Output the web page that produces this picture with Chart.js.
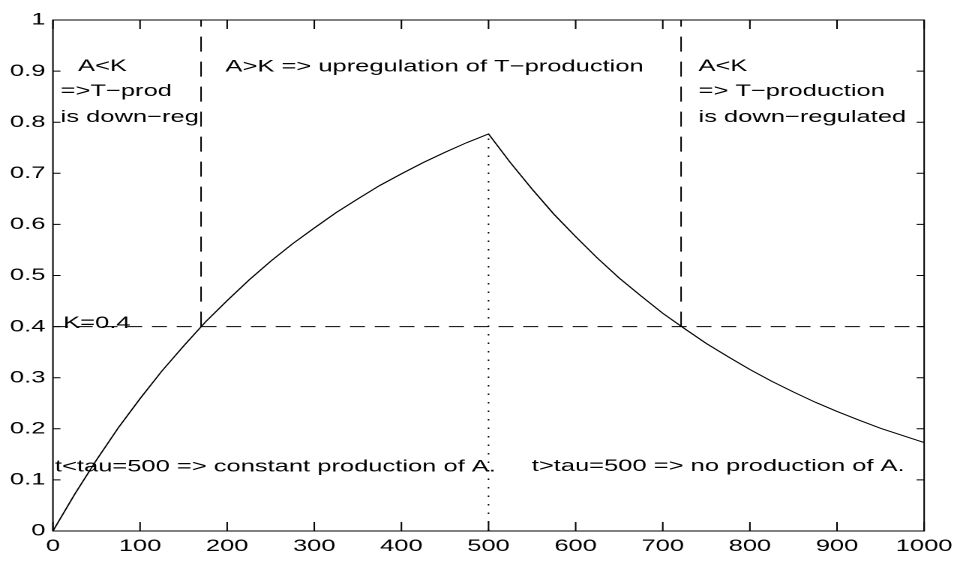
<!DOCTYPE html>
<html>
<head>
<meta charset="utf-8">
<script src="https://cdn.jsdelivr.net/npm/chart.js@4/dist/chart.umd.min.js"></script>
<style>
  html, body { margin: 0; padding: 0; background: #fff; overflow: hidden; }
  /* la figura original está estirada en horizontal */
  #wrap { width: 640px; height: 562px; transform: scaleX(1.5); transform-origin: 0 0; }
</style>
</head>
<body>
<div id="wrap"><canvas id="grafico" width="640" height="562"></canvas></div>
<script>
// Tiempo y concentración de A
const tiempo = [0, 25, 50, 75, 100, 125, 150, 175, 200, 225, 250, 275, 300, 325, 350, 375, 400, 425, 450, 475, 500,
                525, 550, 575, 600, 625, 650, 675, 700, 725, 750, 775, 800, 825, 850, 875, 900, 925, 950, 975, 1000];
const concA = [0, 0.072, 0.139, 0.202, 0.259, 0.313, 0.362, 0.409, 0.451, 0.491, 0.528, 0.562, 0.593, 0.623, 0.650,
               0.676, 0.699, 0.721, 0.741, 0.760, 0.777,
               0.721, 0.669, 0.620, 0.576, 0.534, 0.495, 0.460, 0.426, 0.396, 0.367, 0.341, 0.316, 0.293, 0.272,
               0.252, 0.234, 0.217, 0.201, 0.187, 0.173];

// Umbral K, tau y cruces de la curva con K
const umbralK = 0.4;
const tau = 500;
const picoA = 0.777;
const cruces = [170, 721];

// Marcas de los ejes
const xTicks = [0, 100, 200, 300, 400, 500, 600, 700, 800, 900, 1000];
const xTickLabels = ['0', '100', '200', '300', '400', '500', '600', '700', '800', '900', '1000'];
const yTicks = [0, 0.1, 0.2, 0.3, 0.4, 0.5, 0.6, 0.7, 0.8, 0.9, 1];
const yTickLabels = ['0', '0.1', '0.2', '0.3', '0.4', '0.5', '0.6', '0.7', '0.8', '0.9', '1'];

// Textos dentro del gráfico (coordenadas de datos)
const notas = [
  { x: 28.8, y: 0.909, texto: 'A<K' },
  { x: 8.8, y: 0.860, texto: '=>T\u2212prod' },
  { x: 8.8, y: 0.810, texto: 'is down\u2212reg' },
  { x: 198, y: 0.908, texto: 'A>K => upregulation of T\u2212production' },
  { x: 741, y: 0.909, texto: 'A<K' },
  { x: 741, y: 0.860, texto: '=> T\u2212production' },
  { x: 741, y: 0.810, texto: 'is down\u2212regulated' },
  { x: 11.7, y: 0.406, texto: 'K=0.4' },
  { x: 2.3, y: 0.126, texto: 't<tau=500 => constant production of A.' },
  { x: 549.6, y: 0.127, texto: 't>tau=500 => no production of A.' }
];

const fuente = '17px "Liberation Sans", Arial, sans-serif';

// Caja al estilo MATLAB con marcas hacia dentro, y los textos
const cajaYTextos = {
  id: 'cajaYTextos',
  afterDatasetsDraw(chart) {
    const { ctx, chartArea: a, scales: { x, y } } = chart;
    ctx.save();
    ctx.strokeStyle = '#000';
    ctx.lineWidth = 1;
    ctx.setLineDash([]);
    ctx.beginPath();
    xTicks.forEach(v => {
      const px = x.getPixelForValue(v);
      ctx.moveTo(px, a.bottom); ctx.lineTo(px, a.bottom - 9);
      ctx.moveTo(px, a.top); ctx.lineTo(px, a.top + 9);
    });
    yTicks.forEach(v => {
      const py = y.getPixelForValue(v);
      ctx.moveTo(a.left, py); ctx.lineTo(a.left + 5, py);
      ctx.moveTo(a.right, py); ctx.lineTo(a.right - 5, py);
    });
    ctx.stroke();
    ctx.strokeRect(a.left, a.top, a.right - a.left, a.bottom - a.top);

    ctx.fillStyle = '#000';
    ctx.font = fuente;
    ctx.textAlign = 'left';
    ctx.textBaseline = 'middle';
    notas.forEach(n => {
      ctx.fillText(n.texto, x.getPixelForValue(n.x), y.getPixelForValue(n.y));
    });
    ctx.restore();
  }
};

const linea = (datos, dash) => ({
  data: datos,
  borderColor: '#000',
  borderWidth: 1,
  borderDash: dash,
  pointRadius: 0,
  showLine: true,
  tension: 0,
  fill: false
});

new Chart(document.getElementById('grafico'), {
  type: 'scatter',
  data: {
    datasets: [
      linea(tiempo.map((t, i) => ({ x: t, y: concA[i] })), []),
      linea([{ x: 0, y: umbralK }, { x: 1000, y: umbralK }], [10, 6.5]),
      linea([{ x: cruces[0], y: umbralK }, { x: cruces[0], y: 1 }], [15, 10]),
      linea([{ x: cruces[1], y: umbralK }, { x: cruces[1], y: 1 }], [15, 10]),
      linea([{ x: tau, y: 0 }, { x: tau, y: picoA }], [1.5, 7])
    ]
  },
  options: {
    responsive: false,
    animation: false,
    devicePixelRatio: 2,
    layout: { padding: { top: 20, right: 20, left: 0, bottom: 0 } },
    plugins: { legend: { display: false }, tooltip: { enabled: false } },
    scales: {
      x: {
        type: 'linear',
        min: 0,
        max: 1000,
        afterBuildTicks: s => { s.ticks = xTicks.map(v => ({ value: v })); },
        afterFit: s => { s.height = 31; },
        grid: { display: false, drawTicks: false },
        border: { display: false },
        ticks: {
          color: '#000',
          padding: 5,
          maxRotation: 0,
          autoSkip: false,
          font: { family: '"Liberation Sans", Arial, sans-serif', size: 17 },
          callback: (v, i) => xTickLabels[i]
        }
      },
      y: {
        type: 'linear',
        min: 0,
        max: 1,
        afterBuildTicks: s => { s.ticks = yTicks.map(v => ({ value: v })); },
        afterFit: s => { s.width = 35.3; },
        grid: { display: false, drawTicks: false },
        border: { display: false },
        ticks: {
          color: '#000',
          padding: 5,
          autoSkip: false,
          font: { family: '"Liberation Sans", Arial, sans-serif', size: 17 },
          callback: (v, i) => yTickLabels[i]
        }
      }
    }
  },
  plugins: [cajaYTextos]
});
</script>
</body>
</html>
